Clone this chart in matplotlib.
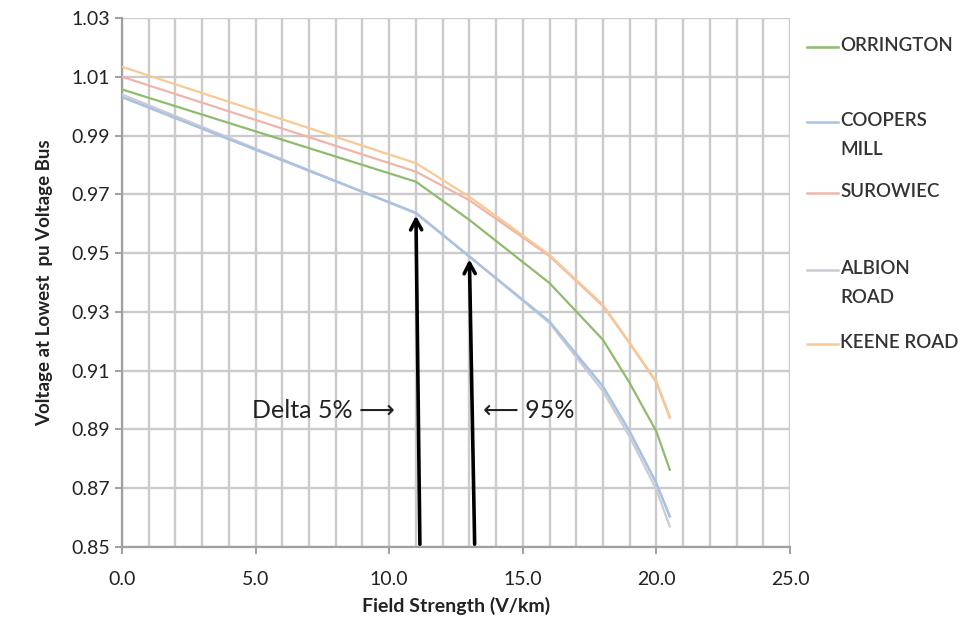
import numpy as np
import matplotlib.pyplot as plt
from matplotlib.lines import Line2D

plt.rcParams['font.family'] = ['Lato', 'DejaVu Sans']

# field strength (V/km) sample points
x = [0.0, 11.0, 13.0, 16.0, 18.0, 19.0, 20.0, 20.5]

orrington = [1.0057, 0.9743, 0.9613, 0.9398, 0.9205, 0.9058, 0.8893, 0.8763]
coopers   = [1.0031, 0.9637, 0.9488, 0.9267, 0.9046, 0.8893, 0.8717, 0.8604]
surowiec  = [1.0100, 0.9777, 0.9680, 0.9490, 0.9320, 0.9193, 0.9060, 0.8940]
albion    = [1.0040, 0.9635, 0.9490, 0.9262, 0.9030, 0.8875, 0.8695, 0.8570]
keene     = [1.0134, 0.9806, 0.9692, 0.9494, 0.9324, 0.9195, 0.9063, 0.8944]

names = ["ORRINGTON", "COOPERS\nMILL", "SUROWIEC", "ALBION\nROAD", "KEENE ROAD"]
series = [orrington, coopers, surowiec, albion, keene]
colors = ["#8fbb6c", "#a9c2e2", "#efb5ab", "#c9ccd3", "#f8c993"]

# annotation arrows: (x at bottom, x at top, voltage at top)
arrows = [(11.15, 11.0, 0.9637), (13.2, 13.0, 0.9488)]

fig = plt.figure(figsize=(9.64, 6.28), dpi=100)
ax = fig.add_axes([122/964, 1-547/628, 668/964, 529/628])

for ys, c, n in zip(series, colors, names):
    ax.plot(x, ys, color=c, lw=1.6, label=n, zorder=3)
# blue drawn again on top of albion, as in the reference
ax.plot(x, coopers, color=colors[1], lw=1.6, zorder=3)

ax.set_xlim(0, 25)
ax.set_ylim(0.85, 1.03)
ax.set_xticks(np.arange(0, 26, 5))
ax.set_xticks(np.arange(0, 26, 1), minor=True)
ax.set_yticks(np.arange(0.85, 1.031, 0.02))
ax.set_xticklabels([f"{v:.1f}" for v in np.arange(0, 26, 5)])
ax.set_yticklabels([f"{v:.2f}" for v in np.arange(0.85, 1.031, 0.02)])
ax.grid(True, which="both", color="#cbcbcb", lw=1.7, zorder=0)
ax.set_axisbelow(True)
for s in ["top", "right"]:
    ax.spines[s].set_visible(False)
for s in ["left", "bottom"]:
    ax.spines[s].set_color("#a0a0a0")
    ax.spines[s].set_linewidth(1.6)
ax.tick_params(axis="both", which="major", length=5, color="#a0a0a0", width=1.4,
               labelsize=14, labelcolor="#222222")
ax.tick_params(axis="x", which="minor", length=0)
ax.tick_params(axis="x", pad=12)

ax.set_xlabel("Field Strength (V/km)", fontsize=14, fontweight="bold", color="#222222", labelpad=7)
ax.set_ylabel("Voltage at Lowest  pu Voltage Bus", fontsize=13.5, fontweight="bold", color="#222222", labelpad=13)

for xb, xt, yt in arrows:
    ax.annotate("", xy=(xt, yt), xytext=(xb, 0.85),
                arrowprops=dict(arrowstyle="->,head_width=0.4,head_length=0.75", color="black", lw=2.6),
                zorder=5)

ax.text(4.85, 0.8963, "Delta 5% \u27f6", fontsize=18, color="#222222", va="center", ha="left", zorder=6)
ax.text(13.5, 0.8963, "\u27f5 95%", fontsize=18, color="#222222", va="center", ha="left", zorder=6)

# legend on the right
leg_y = [47, 122, 193, 270, 344]
for yp, c, n in zip(leg_y, colors, names):
    yf = 1 - yp / 628
    fig.add_artist(Line2D([807/964, 838/964], [yf, yf], color=c, lw=1.8, transform=fig.transFigure))
    fig.text(840/964, yf + 0.016, n, fontsize=13.5, color="#333333", va="top", ha="left",
             fontweight="semibold", linespacing=1.85, transform=fig.transFigure)

fig.savefig("out.png", dpi=100)
